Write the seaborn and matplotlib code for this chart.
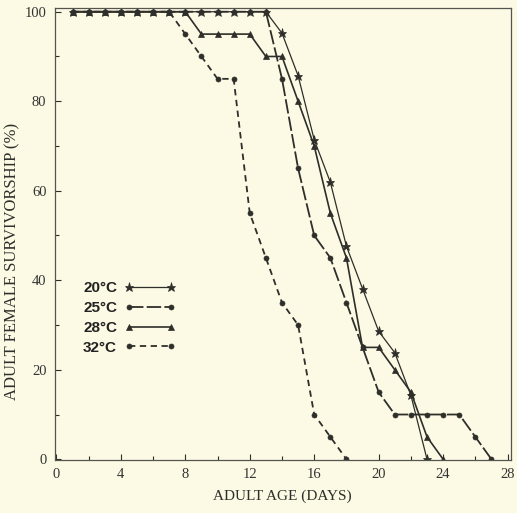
import numpy as np
import pandas as pd
import matplotlib
matplotlib.use("Agg")
import matplotlib.pyplot as plt
import seaborn as sns

# ---- data ----
days_20 = list(range(1, 24))
surv_20 = [100] * 13 + [95.2, 85.7, 71.4, 61.9, 47.6, 38.1, 28.6, 23.8, 14.3, 0]

days_25 = list(range(1, 28))
surv_25 = [100] * 13 + [85, 65, 50, 45, 35, 25, 15, 10, 10, 10, 10, 10, 5, 0]

days_28 = list(range(1, 25))
surv_28 = [100] * 8 + [95, 95, 95, 95, 90, 90, 80, 70, 55, 45, 25, 25, 20, 15, 5, 0]

days_32 = list(range(1, 19))
surv_32 = [100] * 7 + [95, 90, 85, 85, 55, 45, 35, 30, 10, 5, 0]

labels = ["20°C", "25°C", "28°C", "32°C"]
x_ticks = [0, 4, 8, 12, 16, 20, 24, 28]
y_ticks = [0, 20, 40, 60, 80, 100]

sns.set_theme(style="ticks")
plt.rcParams["font.family"] = ["Liberation Serif", "DejaVu Serif"]

bg = "#fcfae4"
ink = "#2e2e2a"

fig = plt.figure(figsize=(5.17, 5.13), dpi=100, facecolor=bg)
ax = fig.add_axes([0.106, 0.103, 0.882, 0.882])
ax.set_facecolor(bg)

styles = [
    dict(x=days_20, y=surv_20, marker="*", ms=6.5, lw=0.9, dashes=None),
    dict(x=days_25, y=surv_25, marker="o", ms=3.6, lw=1.3, dashes=(8, 1.8)),
    dict(x=days_28, y=surv_28, marker="^", ms=4.0, lw=1.2, dashes=None),
    dict(x=days_32, y=surv_32, marker="o", ms=3.6, lw=1.3, dashes=(3.5, 2.5)),
]

handles = []
for st, lab in zip(styles, labels):
    df = pd.DataFrame({"day": st["x"], "surv": st["y"]})
    sns.lineplot(data=df, x="day", y="surv", ax=ax, color=ink, lw=st["lw"],
                 marker=st["marker"], markersize=st["ms"], markeredgecolor=ink,
                 markeredgewidth=0.5, markerfacecolor=ink, label=lab, legend=False)
    line = ax.lines[-1]
    if st["dashes"] is not None:
        line.set_dashes(st["dashes"])
    handles.append(line)

ax.set_xlim(-0.1, 28.2)
ax.set_ylim(-0.2, 100.9)
ax.set_xticks(x_ticks)
ax.set_xticks(np.arange(0, 29, 2), minor=True)
ax.set_yticks(y_ticks)
ax.set_yticks(np.arange(0, 101, 10), minor=True)
ax.tick_params(axis="both", which="major", direction="in", length=4, width=0.8,
               labelsize=10.5, colors=ink, pad=6)
ax.tick_params(axis="both", which="minor", direction="in", length=3, width=0.8, colors=ink)
for lab in ax.get_xticklabels() + ax.get_yticklabels():
    lab.set_color("#333333")
for sp in ax.spines.values():
    sp.set_color("#555550")
    sp.set_linewidth(0.9)

ax.set_xlabel("ADULT AGE (DAYS)", fontsize=11, color=ink, labelpad=6)
ax.set_ylabel("ADULT FEMALE SURVIVORSHIP (%)", fontsize=12, color=ink)
ax.yaxis.set_label_coords(-0.076, 0.44)

leg = ax.legend(handles=handles, labels=labels, loc="center left",
                bbox_to_anchor=(0.062, 0.314), frameon=False, markerfirst=False,
                numpoints=2, handlelength=3.3, handletextpad=0.5, labelspacing=0.38,
                borderpad=0, borderaxespad=0,
                prop={"family": ["Liberation Sans", "DejaVu Sans"], "weight": "bold", "size": 11})
for t in leg.get_texts():
    t.set_color("#222222")

fig.savefig("out.png", dpi=100, facecolor=bg)
